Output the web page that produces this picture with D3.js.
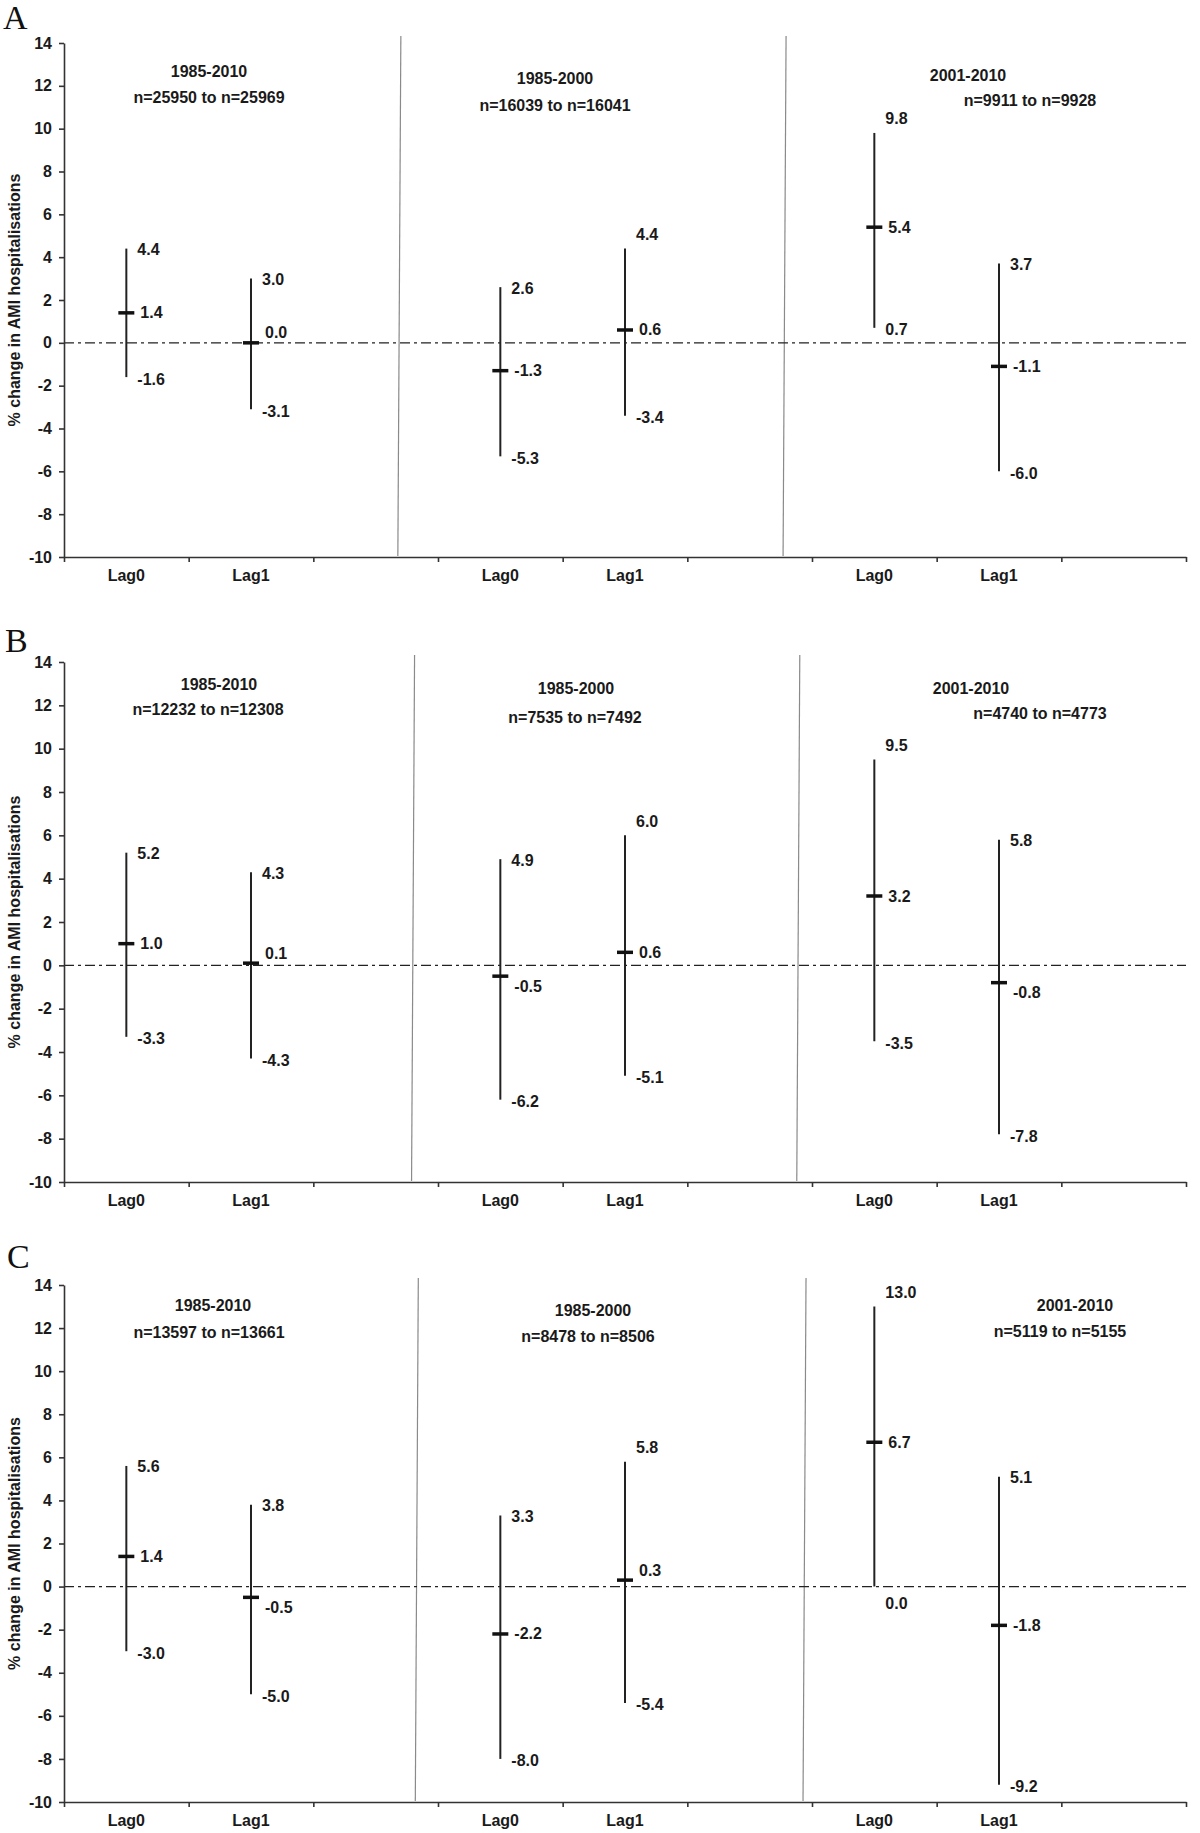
<!DOCTYPE html>
<html>
<head>
<meta charset="utf-8">
<script src="https://cdn.jsdelivr.net/npm/d3@7"></script>
<style>
  body { margin: 0; background: #fff; }
  svg text { font-family: "Liberation Sans", Arial, sans-serif; font-weight: bold; fill: #1a1a1a; }
  .letter { font-family: "Liberation Serif", "Times New Roman", serif !important; font-weight: normal !important; fill: #111 !important; }
</style>
</head>
<body>
<svg id="chart" width="1200" height="1833"></svg>
<script>
// categories
const slotLabels = ["Lag0", "Lag1", "", "Lag0", "Lag1", "", "Lag0", "Lag1", ""];
const pointSlots = [0, 1, 3, 4, 6, 7];
const periods = ["1985-2010", "1985-2000", "2001-2010"];
const yTicks = d3.range(-10, 15, 2);

// panel A
const sizesA = ["n=25950 to n=25969", "n=16039 to n=16041", "n=9911 to n=9928"];
const estA  = [1.4, 0.0, -1.3, 0.6, 5.4, -1.1];
const lowA  = [-1.6, -3.1, -5.3, -3.4, 0.7, -6.0];
const highA = [4.4, 3.0, 2.6, 4.4, 9.8, 3.7];

// panel B
const sizesB = ["n=12232 to n=12308", "n=7535 to n=7492", "n=4740 to n=4773"];
const estB  = [1.0, 0.1, -0.5, 0.6, 3.2, -0.8];
const lowB  = [-3.3, -4.3, -6.2, -5.1, -3.5, -7.8];
const highB = [5.2, 4.3, 4.9, 6.0, 9.5, 5.8];

// panel C
const sizesC = ["n=13597 to n=13661", "n=8478 to n=8506", "n=5119 to n=5155"];
const estC  = [1.4, -0.5, -2.2, 0.3, 6.7, -1.8];
const lowC  = [-3.0, -5.0, -8.0, -5.4, 0.0, -9.2];
const highC = [5.6, 3.8, 3.3, 5.8, 13.0, 5.1];

// layout of each panel (pixels), kept apart from the values
const panels = [
  { letter: "A", est: estA, low: lowA, high: highA, sizes: sizesA,
    top: 43, bottom: 557, letterY: 29, letterX: 3,
    sepAt: [2.69, 5.78],
    titles: [[209, 209, 28, 54], [555, 555, 35, 62], [968, 1030, 32, 57]] },
  { letter: "B", est: estB, low: lowB, high: highB, sizes: sizesB,
    top: 662, bottom: 1182, letterY: 652, letterX: 5,
    sepAt: [2.80, 5.89],
    titles: [[219, 208, 22, 47], [576, 575, 26, 55], [971, 1040, 26, 51]] },
  { letter: "C", est: estC, low: lowC, high: highC, sizes: sizesC,
    top: 1285, bottom: 1802, letterY: 1268, letterX: 7,
    sepAt: [2.83, 5.94],
    titles: [[213, 209, 20, 47], [593, 588, 25, 51], [1075, 1060, 20, 46]] }
];

const x0 = 64, x1 = 1186;
const svg = d3.select("#chart");
svg.append("rect").attr("width", 1200).attr("height", 1833).attr("fill", "#fff");

const xBand = d3.scaleBand().domain(d3.range(slotLabels.length)).range([x0, x1]);
const xEdge = d3.scaleLinear().domain([0, slotLabels.length]).range([x0, x1]);
// plain hyphen for negatives, as in the original
const fmt = function(v) { return d3.format(".1f")(v).replace("\u2212", "-"); };
const fmtTick = function(v) { return String(v); };

panels.forEach(function(p) {
  let y = d3.scaleLinear().domain([-10, 14]).range([p.bottom, p.top]);
  let g = svg.append("g");

  g.append("text").attr("class", "letter")
    .attr("x", p.letterX).attr("y", p.letterY)
    .style("font-size", "34px")
    .text(p.letter);

  // separators between periods
  p.sepAt.forEach(function(s) {
    g.append("line")
      .attr("x1", xEdge(s) + 1.5).attr("x2", xEdge(s) - 1.5)
      .attr("y1", p.top - 7).attr("y2", p.bottom - 1)
      .attr("stroke", "#8a8a8a").attr("stroke-width", 1.2);
  });

  // zero line
  g.append("line")
    .attr("x1", x0).attr("x2", x1)
    .attr("y1", y(0)).attr("y2", y(0))
    .attr("stroke", "#222").attr("stroke-width", 1.3)
    .attr("stroke-dasharray", "10,4,3,4");

  // y axis
  let ya = g.append("g").attr("transform", "translate(" + x0 + ",0)")
    .call(d3.axisLeft(y).tickValues(yTicks).tickFormat(fmtTick).tickSizeInner(5).tickSizeOuter(0).tickPadding(7));
  ya.selectAll("path, line").attr("stroke", "#333").attr("stroke-width", 1.6);
  ya.selectAll("text").style("font-size", "16px").attr("fill", "#1a1a1a");

  // x axis: ticks on slot edges, labels in slot centres
  let xa = g.append("g").attr("transform", "translate(0," + p.bottom + ")")
    .call(d3.axisBottom(xEdge).tickValues(d3.range(slotLabels.length + 1)).tickFormat("")
      .tickSizeInner(5).tickSizeOuter(0));
  xa.selectAll("path, line").attr("stroke", "#333").attr("stroke-width", 1.6);

  let xl = g.append("g").attr("transform", "translate(0," + p.bottom + ")")
    .call(d3.axisBottom(xBand).tickSize(0).tickPadding(13).tickFormat(function(i) { return slotLabels[i]; }));
  xl.select(".domain").remove();
  xl.selectAll("text").style("font-size", "16px").attr("fill", "#1a1a1a");

  // axis title
  g.append("text")
    .attr("transform", "translate(20," + ((p.top + p.bottom) / 2) + ") rotate(-90)")
    .attr("text-anchor", "middle")
    .style("font-size", "16px")
    .text("% change in AMI hospitalisations");

  // period titles
  periods.forEach(function(t, k) {
    let pos = p.titles[k];
    g.append("text").attr("x", pos[0]).attr("y", p.top + pos[2])
      .attr("text-anchor", "middle").attr("dominant-baseline", "central")
      .style("font-size", "16px").text(t);
    g.append("text").attr("x", pos[1]).attr("y", p.top + pos[3])
      .attr("text-anchor", "middle").attr("dominant-baseline", "central")
      .style("font-size", "16px").text(p.sizes[k]);
  });

  // estimates with 95% intervals
  let pts = p.est.map(function(e, i) {
    return { slot: pointSlots[i], est: e, low: p.low[i], high: p.high[i], i: i };
  });
  let cx = function(d) { return xBand(d.slot) + xBand.bandwidth() / 2; };

  let bars = g.selectAll(".bar").data(pts).enter().append("g").attr("class", "bar");

  bars.append("line")
    .attr("x1", cx).attr("x2", cx)
    .attr("y1", function(d) { return y(d.high); })
    .attr("y2", function(d) { return y(d.low); })
    .attr("stroke", "#222").attr("stroke-width", 2);

  bars.append("line")
    .attr("x1", function(d) { return cx(d) - 8; })
    .attr("x2", function(d) { return cx(d) + 8; })
    .attr("y1", function(d) { return y(d.est); })
    .attr("y2", function(d) { return y(d.est); })
    .attr("stroke", "#111").attr("stroke-width", 3.5);

  bars.append("text")
    .attr("x", function(d) { return cx(d) + 11; })
    .attr("y", function(d) { return y(d.high) + ((d.i === 3 || d.i === 4) ? -14 : 1); })
    .attr("dominant-baseline", "central")
    .style("font-size", "16px")
    .text(function(d) { return fmt(d.high); });

  bars.append("text")
    .attr("x", function(d) { return cx(d) + 14; })
    .attr("y", function(d) {
      let nudge = 0;
      if (d.est >= 0 && d.est < 0.5) nudge = -10;
      else if (d.est < 0 && d.est > -0.9) nudge = 10;
      return y(d.est) + nudge;
    })
    .attr("dominant-baseline", "central")
    .style("font-size", "16px")
    .text(function(d) { return fmt(d.est); });

  bars.append("text")
    .attr("x", function(d) { return cx(d) + 11; })
    .attr("y", function(d) { return y(d.low) + (Math.abs(d.low) < 0.5 ? 17 : 2); })
    .attr("dominant-baseline", "central")
    .style("font-size", "16px")
    .text(function(d) { return fmt(d.low); });
});
</script>
</body>
</html>
